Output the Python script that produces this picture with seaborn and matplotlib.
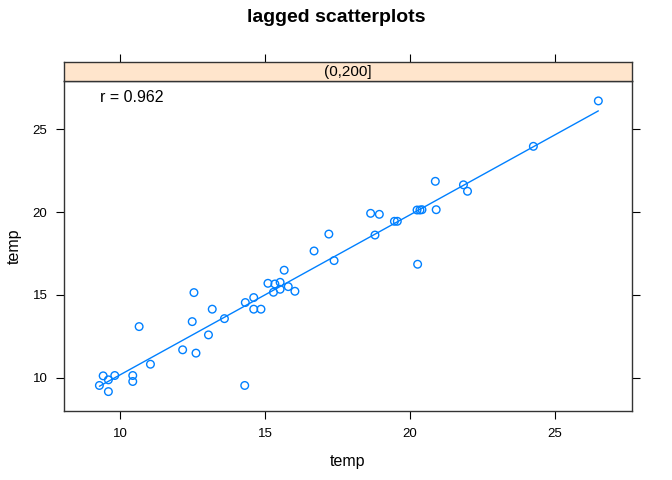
import numpy as np
import pandas as pd
import matplotlib
matplotlib.use("Agg")
import matplotlib.pyplot as plt
import seaborn as sns

# lagged temperature pairs (x = temp at t-1, y = temp at t)
x_temp = [9.29, 9.42, 9.60, 9.60, 9.82, 10.44, 10.44, 10.66, 11.05, 12.16,
          12.49, 12.55, 12.62, 13.05, 13.18, 13.60, 14.30, 14.32, 14.61, 14.61,
          14.86, 15.10, 15.29, 15.34, 15.52, 15.52, 15.66, 15.80, 16.03, 16.69,
          17.20, 17.38, 18.64, 18.79, 18.94, 19.46, 19.56, 20.24, 20.26, 20.34,
          20.41, 20.87, 20.90, 21.84, 21.98, 24.25, 26.49]
y_temp = [9.54, 10.12, 9.88, 9.17, 10.14, 10.14, 9.78, 13.09, 10.82, 11.69,
          13.39, 15.14, 11.49, 12.59, 14.14, 13.57, 9.54, 14.54, 14.84, 14.14,
          14.14, 15.70, 15.16, 15.66, 15.76, 15.34, 16.49, 15.50, 15.22, 17.65,
          18.67, 17.07, 19.92, 18.61, 19.86, 19.44, 19.44, 20.12, 16.85, 20.12,
          20.14, 21.85, 20.14, 21.64, 21.25, 23.96, 26.70]
x_ticks = [10, 15, 20, 25]
y_ticks = [10, 15, 20, 25]
strip_label = "(0,200]"
title = "lagged scatterplots"

df = pd.DataFrame({"x": x_temp, "y": y_temp})
r = np.corrcoef(df["x"], df["y"])[0, 1]

sns.set_style("white")
plt.rcParams["font.family"] = ["Liberation Sans", "DejaVu Sans"]
plt.rcParams["text.color"] = "black"
plt.rcParams["axes.labelcolor"] = "black"

fig = plt.figure(figsize=(6.72, 4.8), dpi=100)
ax = fig.add_axes([64 / 672, 1 - 411 / 480, (632 - 64) / 672, (411 - 81) / 480])

blue = "#0080ff"
sns.scatterplot(data=df, x="x", y="y", ax=ax, marker="o", s=30,
                facecolor="none", edgecolor=blue, linewidth=1.0)
sns.regplot(data=df, x="x", y="y", ax=ax, scatter=False, ci=None,
            truncate=True, line_kws={"color": blue, "linewidth": 1.0})

ax.set_xlim(8.07, 27.65)
ax.set_ylim(8.0, 27.9)
ax.set_xticks(x_ticks)
ax.set_yticks(y_ticks)
ax.tick_params(axis="both", which="both", direction="out", length=6, width=0.8,
               colors="black", labelsize=9.5, pad=6)
ax.tick_params(axis="y", right=True, left=True, labelright=False)
ax.tick_params(axis="x", bottom=True, top=False)
ax.set_xlabel("temp", fontsize=11.5, labelpad=10, color="black")
ax.set_ylabel("temp", fontsize=11.5, labelpad=8, color="black")
for s in ax.spines.values():
    s.set_color("#333333")
    s.set_linewidth(1.0)

ax.text(0.063, 0.95, f"r = {r:.3f}", transform=ax.transAxes, fontsize=11.5,
        ha="left", va="center", color="black")

# strip
sax = fig.add_axes([64 / 672, 1 - 81 / 480, (632 - 64) / 672, 19 / 480])
sax.set_facecolor("#ffe5cc")
sax.set_xlim(ax.get_xlim())
sax.set_xticks(x_ticks)
sax.tick_params(axis="x", bottom=False, top=True, labeltop=False, labelbottom=False,
                direction="out", length=6, width=0.8, colors="black")
sax.set_yticks([])
for s in sax.spines.values():
    s.set_color("#333333")
    s.set_linewidth(1.0)
sax.text(0.5, 0.45, strip_label, transform=sax.transAxes, ha="center",
         va="center", fontsize=11, color="black")

fig.text(0.5, 1 - 18 / 480, title, ha="center", va="center",
         fontsize=14, fontweight="bold", color="black")

fig.savefig("out.png", dpi=100)
